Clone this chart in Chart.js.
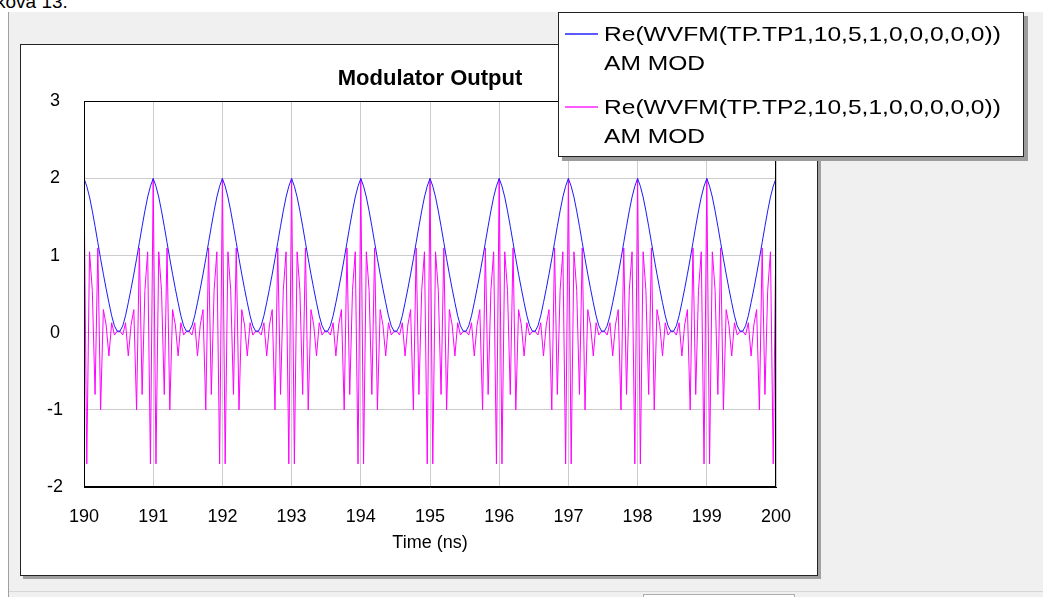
<!DOCTYPE html>
<html>
<head>
<meta charset="utf-8">
<script src="https://cdn.jsdelivr.net/npm/chart.js@4.4.1/dist/chart.umd.min.js"></script>
<style>
html,body{margin:0;padding:0;background:#fff;width:1043px;height:597px;overflow:hidden;font-family:"Liberation Sans",Arial,sans-serif;}
#cut{position:absolute;left:-4px;top:-7px;font-size:19px;line-height:18px;color:#000;white-space:nowrap;}
#panel{position:absolute;left:8px;top:12px;width:1035px;height:585px;background:#f0f0f0;border-left:1px solid #a0a0a0;}
#bline{position:absolute;left:9px;top:591px;width:1034px;height:1px;background:#d6d6d6;}
#bbox{position:absolute;left:643px;top:594px;width:150px;height:10px;background:#fdfdfd;border:1px solid #adadad;}
#frame{position:absolute;left:20px;top:44px;width:796px;height:530px;background:#fff;border:1px solid #222;box-shadow:3px 3px 0 #a0a0a0;}
#wrap{position:absolute;left:21px;top:45px;width:796px;height:530px;}
#legend{position:absolute;left:558px;top:12px;width:464px;height:143px;background:#fff;border:1px solid #222;box-shadow:4px 4px 0 #9c9c9c;}
.sw{position:absolute;left:6px;width:33px;height:2px;}
.lt{position:absolute;left:45px;font-size:21px;line-height:29px;white-space:nowrap;color:#000;transform:scaleX(1.17);transform-origin:0 0;}
</style>
</head>
<body>
<div id="cut">ková 13.</div>
<div id="panel"></div>
<div id="bline"></div>
<div id="bbox"></div>
<div id="frame"></div>
<div id="wrap"><canvas id="c" width="796" height="530"></canvas></div>
<div id="legend">
  <div class="sw" style="top:20px;background:#5a5aff;"></div>
  <div class="lt" style="top:6px;">Re(WVFM(TP.TP1,10,5,1,0,0,0,0,0))<br>AM MOD</div>
  <div class="sw" style="top:93px;background:#ff5aff;"></div>
  <div class="lt" style="top:79px;">Re(WVFM(TP.TP2,10,5,1,0,0,0,0,0))<br>AM MOD</div>
</div>
<script>
const chartTitle = 'Modulator Output';
const xAxisTitle = 'Time (ns)';
const seriesNames = ['Re(WVFM(TP.TP1,10,5,1,0,0,0,0,0)) AM MOD', 'Re(WVFM(TP.TP2,10,5,1,0,0,0,0,0)) AM MOD'];

const sampleTimes = [
190,190.04,190.08,190.12,190.16,190.2,190.24,190.28,190.32,190.36,190.4,190.44,190.48,190.52,190.56,190.6,190.64,190.68,190.72,190.76,190.8,190.84,190.88,190.92,190.96,
191,191.04,191.08,191.12,191.16,191.2,191.24,191.28,191.32,191.36,191.4,191.44,191.48,191.52,191.56,191.6,191.64,191.68,191.72,191.76,191.8,191.84,191.88,191.92,191.96,
192,192.04,192.08,192.12,192.16,192.2,192.24,192.28,192.32,192.36,192.4,192.44,192.48,192.52,192.56,192.6,192.64,192.68,192.72,192.76,192.8,192.84,192.88,192.92,192.96,
193,193.04,193.08,193.12,193.16,193.2,193.24,193.28,193.32,193.36,193.4,193.44,193.48,193.52,193.56,193.6,193.64,193.68,193.72,193.76,193.8,193.84,193.88,193.92,193.96,
194,194.04,194.08,194.12,194.16,194.2,194.24,194.28,194.32,194.36,194.4,194.44,194.48,194.52,194.56,194.6,194.64,194.68,194.72,194.76,194.8,194.84,194.88,194.92,194.96,
195,195.04,195.08,195.12,195.16,195.2,195.24,195.28,195.32,195.36,195.4,195.44,195.48,195.52,195.56,195.6,195.64,195.68,195.72,195.76,195.8,195.84,195.88,195.92,195.96,
196,196.04,196.08,196.12,196.16,196.2,196.24,196.28,196.32,196.36,196.4,196.44,196.48,196.52,196.56,196.6,196.64,196.68,196.72,196.76,196.8,196.84,196.88,196.92,196.96,
197,197.04,197.08,197.12,197.16,197.2,197.24,197.28,197.32,197.36,197.4,197.44,197.48,197.52,197.56,197.6,197.64,197.68,197.72,197.76,197.8,197.84,197.88,197.92,197.96,
198,198.04,198.08,198.12,198.16,198.2,198.24,198.28,198.32,198.36,198.4,198.44,198.48,198.52,198.56,198.6,198.64,198.68,198.72,198.76,198.8,198.84,198.88,198.92,198.96,
199,199.04,199.08,199.12,199.16,199.2,199.24,199.28,199.32,199.36,199.4,199.44,199.48,199.52,199.56,199.6,199.64,199.68,199.72,199.76,199.8,199.84,199.88,199.92,199.96,
200];

const tp1Values = [
2,1.9,1.76,1.58,1.38,1.17,0.96,0.76,0.57,0.39,0.22,0.09,0.02,0.02,0.09,0.22,0.39,0.57,0.76,0.96,1.17,1.38,1.58,1.76,1.9,
2,1.9,1.76,1.58,1.38,1.17,0.96,0.76,0.57,0.39,0.22,0.09,0.02,0.02,0.09,0.22,0.39,0.57,0.76,0.96,1.17,1.38,1.58,1.76,1.9,
2,1.9,1.76,1.58,1.38,1.17,0.96,0.76,0.57,0.39,0.22,0.09,0.02,0.02,0.09,0.22,0.39,0.57,0.76,0.96,1.17,1.38,1.58,1.76,1.9,
2,1.9,1.76,1.58,1.38,1.17,0.96,0.76,0.57,0.39,0.22,0.09,0.02,0.02,0.09,0.22,0.39,0.57,0.76,0.96,1.17,1.38,1.58,1.76,1.9,
2,1.9,1.76,1.58,1.38,1.17,0.96,0.76,0.57,0.39,0.22,0.09,0.02,0.02,0.09,0.22,0.39,0.57,0.76,0.96,1.17,1.38,1.58,1.76,1.9,
2,1.9,1.76,1.58,1.38,1.17,0.96,0.76,0.57,0.39,0.22,0.09,0.02,0.02,0.09,0.22,0.39,0.57,0.76,0.96,1.17,1.38,1.58,1.76,1.9,
2,1.9,1.76,1.58,1.38,1.17,0.96,0.76,0.57,0.39,0.22,0.09,0.02,0.02,0.09,0.22,0.39,0.57,0.76,0.96,1.17,1.38,1.58,1.76,1.9,
2,1.9,1.76,1.58,1.38,1.17,0.96,0.76,0.57,0.39,0.22,0.09,0.02,0.02,0.09,0.22,0.39,0.57,0.76,0.96,1.17,1.38,1.58,1.76,1.9,
2,1.9,1.76,1.58,1.38,1.17,0.96,0.76,0.57,0.39,0.22,0.09,0.02,0.02,0.09,0.22,0.39,0.57,0.76,0.96,1.17,1.38,1.58,1.76,1.9,
2,1.9,1.76,1.58,1.38,1.17,0.96,0.76,0.57,0.39,0.22,0.09,0.02,0.02,0.09,0.22,0.39,0.57,0.76,0.96,1.17,1.38,1.58,1.76,1.9,
2];

const tp2Values = [
2,-1.7,1.05,0.55,-0.8,1.1,-1,0.3,0.1,-0.3,0.13,-0.03,0.02,0.02,-0.03,0.13,-0.3,0.1,0.3,-1,1.1,-0.8,0.55,1.05,-1.7,
2,-1.7,1.05,0.55,-0.8,1.1,-1,0.3,0.1,-0.3,0.13,-0.03,0.02,0.02,-0.03,0.13,-0.3,0.1,0.3,-1,1.1,-0.8,0.55,1.05,-1.7,
2,-1.7,1.05,0.55,-0.8,1.1,-1,0.3,0.1,-0.3,0.13,-0.03,0.02,0.02,-0.03,0.13,-0.3,0.1,0.3,-1,1.1,-0.8,0.55,1.05,-1.7,
2,-1.7,1.05,0.55,-0.8,1.1,-1,0.3,0.1,-0.3,0.13,-0.03,0.02,0.02,-0.03,0.13,-0.3,0.1,0.3,-1,1.1,-0.8,0.55,1.05,-1.7,
2,-1.7,1.05,0.55,-0.8,1.1,-1,0.3,0.1,-0.3,0.13,-0.03,0.02,0.02,-0.03,0.13,-0.3,0.1,0.3,-1,1.1,-0.8,0.55,1.05,-1.7,
2,-1.7,1.05,0.55,-0.8,1.1,-1,0.3,0.1,-0.3,0.13,-0.03,0.02,0.02,-0.03,0.13,-0.3,0.1,0.3,-1,1.1,-0.8,0.55,1.05,-1.7,
2,-1.7,1.05,0.55,-0.8,1.1,-1,0.3,0.1,-0.3,0.13,-0.03,0.02,0.02,-0.03,0.13,-0.3,0.1,0.3,-1,1.1,-0.8,0.55,1.05,-1.7,
2,-1.7,1.05,0.55,-0.8,1.1,-1,0.3,0.1,-0.3,0.13,-0.03,0.02,0.02,-0.03,0.13,-0.3,0.1,0.3,-1,1.1,-0.8,0.55,1.05,-1.7,
2,-1.7,1.05,0.55,-0.8,1.1,-1,0.3,0.1,-0.3,0.13,-0.03,0.02,0.02,-0.03,0.13,-0.3,0.1,0.3,-1,1.1,-0.8,0.55,1.05,-1.7,
2,-1.7,1.05,0.55,-0.8,1.1,-1,0.3,0.1,-0.3,0.13,-0.03,0.02,0.02,-0.03,0.13,-0.3,0.1,0.3,-1,1.1,-0.8,0.55,1.05,-1.7,
1.4];

const FONT = '"Liberation Sans", Arial, sans-serif';

const plotBorder = {
  id: 'plotBorder',
  afterDraw(chart) {
    const a = chart.chartArea, ctx = chart.ctx;
    ctx.save();
    ctx.strokeStyle = '#000';
    ctx.lineWidth = 1;
    ctx.strokeRect(Math.round(a.left) + 0.5, Math.round(a.top) + 0.5, Math.round(a.right - a.left) - 1, Math.round(a.bottom - a.top) - 1);
    ctx.restore();
  }
};

new Chart(document.getElementById('c'), {
  type: 'line',
  data: {
    labels: sampleTimes,
    datasets: [
      { label: seriesNames[0], data: tp1Values, borderColor: '#1a1aff', borderWidth: 1, pointRadius: 0, tension: 0, fill: false },
      { label: seriesNames[1], data: tp2Values, borderColor: '#ff00ff', borderWidth: 1, pointRadius: 0, tension: 0, fill: false }
    ]
  },
  options: {
    responsive: false,
    animation: false,
    layout: { padding: { left: 0, right: 41, top: 0, bottom: 0 } },
    plugins: {
      legend: { display: false },
      tooltip: { enabled: false },
      title: { display: true, fullSize: false, text: chartTitle, color: '#000', font: { family: FONT, size: 22, weight: 'bold' }, padding: { top: 21, bottom: 9 } }
    },
    scales: {
      x: {
        type: 'linear', min: 190, max: 200,
        ticks: { stepSize: 1, color: '#000', font: { family: FONT, size: 18 }, padding: 19, maxRotation: 0, autoSkip: false },
        grid: { color: '#cccccc', drawTicks: false },
        border: { color: '#000' },
        title: { display: true, text: xAxisTitle, color: '#000', font: { family: FONT, size: 18 }, padding: { top: 0, bottom: 21 } },
        afterFit(s) { s.height = 88; }
      },
      y: {
        min: -2, max: 3,
        ticks: { stepSize: 1, color: '#000', font: { family: FONT, size: 18 }, padding: 21, crossAlign: 'center' },
        grid: { color: '#cccccc', drawTicks: false },
        border: { color: '#000' },
        afterFit(s) { s.width = 63; }
      }
    }
  },
  plugins: [plotBorder]
});
</script>
</body>
</html>
